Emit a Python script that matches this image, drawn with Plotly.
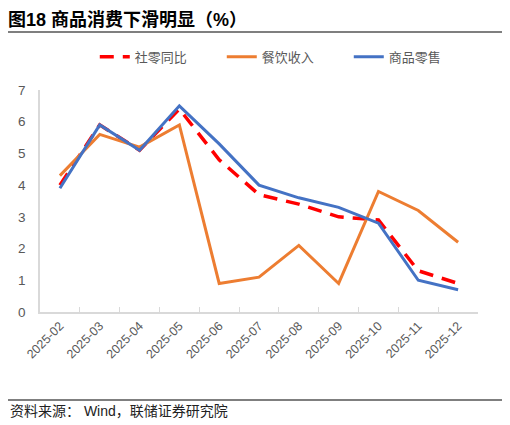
import plotly.graph_objects as go

# data
months = ["2025-02", "2025-03", "2025-04", "2025-05", "2025-06", "2025-07",
          "2025-08", "2025-09", "2025-10", "2025-11", "2025-12"]
retail_yoy = [4.0, 5.9, 5.1, 6.4, 4.8, 3.7, 3.4, 3.0, 2.9, 1.3, 0.9]      # 社零同比
catering = [4.3, 5.6, 5.2, 5.9, 0.9, 1.1, 2.1, 0.9, 3.8, 3.2, 2.2]        # 餐饮收入
goods_retail = [3.9, 5.9, 5.1, 6.5, 5.3, 4.0, 3.6, 3.3, 2.8, 1.0, 0.7]    # 商品零售

y_ticks = [0, 1, 2, 3, 4, 5, 6, 7]

cjk = "Noto Sans CJK SC"
latin = "Liberation Sans, Arial, " + cjk
grey = "#595959"
axis_grey = "#d9d9d9"

fig = go.Figure()
fig.add_trace(go.Scatter(x=months, y=retail_yoy, name="社零同比", mode="lines",
                         line=dict(color="#FF0000", width=3.5, dash="14px,9px")))
fig.add_trace(go.Scatter(x=months, y=catering, name="餐饮收入", mode="lines",
                         line=dict(color="#ED7D31", width=3)))
fig.add_trace(go.Scatter(x=months, y=goods_retail, name="商品零售", mode="lines",
                         line=dict(color="#4472C4", width=3)))

# the page body adds an 8px margin, so the figure is 8px smaller than the window
fig.update_layout(
    width=502, height=417,
    margin=dict(l=32, r=32, t=82, b=113),
    paper_bgcolor="white", plot_bgcolor="white",
    showlegend=True,
    legend=dict(orientation="h", x=0.56, xanchor="center", y=1.15, yanchor="middle",
                font=dict(family=cjk, size=13, color=grey),
                entrywidth=82, entrywidthmode="pixels",
                bgcolor="rgba(0,0,0,0)"),
    title=dict(text="<b>图18 商品消费下滑明显（%）</b>", xref="container", x=0,
               xanchor="left", yref="container", y=1 - 11.5 / 417, yanchor="middle",
               font=dict(family=latin, size=18, color="#000000")),
)

fig.update_xaxes(
    type="category", range=[-0.5, 10.5], automargin=False,
    showline=True, linecolor=axis_grey, linewidth=1.5,
    ticks="inside", tickson="boundaries", ticklen=5, tickcolor=axis_grey,
    tickangle=-45, tickfont=dict(family=latin, size=12.5, color=grey),
    showgrid=False, zeroline=False,
)
fig.update_yaxes(
    range=[0, 7], tickvals=y_ticks, automargin=False,
    showline=True, linecolor=axis_grey, linewidth=1.5,
    ticks="", ticklabelstandoff=10, tickfont=dict(family=latin, size=13.5, color=grey),
    showgrid=False, zeroline=False,
)

# header and footer rules
fig.add_shape(type="line", xref="paper", yref="paper", x0=-0.075, x1=1.062,
              y0=1.261, y1=1.261, line=dict(color="#555555", width=1.5))
fig.add_shape(type="line", xref="paper", yref="paper", x0=-0.075, x1=1.062,
              y0=-0.396, y1=-0.396, line=dict(color="#555555", width=1.5))

fig.add_annotation(text="资料来源： Wind，联储证券研究院", xref="paper", yref="paper",
                   x=-0.073, y=-0.446, xanchor="left", yanchor="middle", showarrow=False,
                   font=dict(family=latin, size=14, color="#222222"))

fig.write_html("out.html")
